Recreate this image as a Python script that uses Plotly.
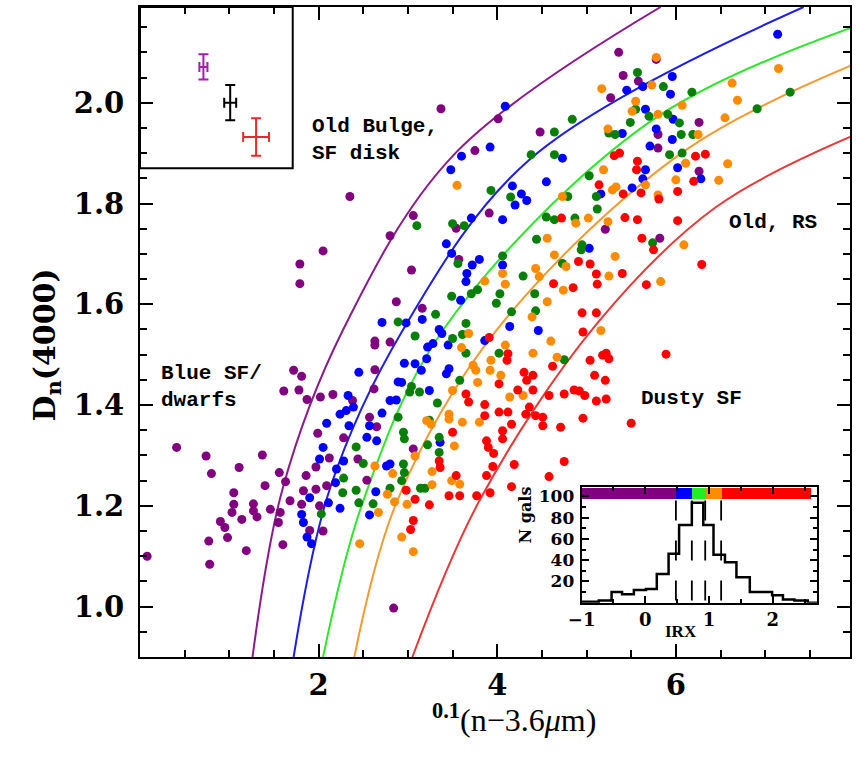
import plotly.graph_objects as go

# ---------------- data ----------------
purple_x = [3.37,3.75,2.35,3.06,3.91,3.54,2.80,2.05,1.79,1.79,3.57,3.04,2.87,3.16,
            5.36,5.78,5.41,5.58,5.27,6.26,4.01,4.48,5.80,5.80,6.26,5.21,5.82,
            2.63,2.63,2.80,1.72,1.81,2.63,1.61,1.78,1.87,2.02,2.16,2.62,2.38,2.57,2.65,1.99,2.28,
            3.06,
            1.37,1.11,1.56,1.63,1.86,2.12,1.97,2.44,1.40,1.05,1.05,1.03,1.27,1.27,1.31,1.14,1.46,1.57,
            1.68,1.81,1.83,1.97,2.09,2.54,2.01,1.55,1.90,2.05,1.60,1.19,
            0.41,0.74,0.80,0.90,0.95,0.98,0.77,0.78,0.08,2.84]
purple_y = [1.988,1.905,1.814,1.776,1.781,1.751,1.736,1.706,1.680,1.641,1.689,1.668,1.605,1.592,
            2.100,2.086,2.054,2.043,2.010,1.961,1.968,1.942,1.937,1.910,1.864,1.749,1.731,
            1.527,1.519,1.525,1.469,1.457,1.470,1.428,1.430,1.411,1.416,1.421,1.432,1.409,1.376,1.357,1.344,1.335,
            1.313,
            1.301,1.276,1.266,1.248,1.260,1.295,1.277,1.293,1.240,1.226,1.203,1.187,1.204,1.190,1.178,1.173,1.193,1.187,
            1.210,1.203,1.230,1.233,1.240,1.251,1.200,1.167,1.151,1.150,1.123,1.111,
            1.316,1.299,1.264,1.169,1.157,1.137,1.130,1.084,1.100,0.997]

blue_x = [3.60,3.48,3.71,3.43,3.49,3.72,3.80,3.66,3.65,3.59,
          7.14,5.96,5.45,5.63,5.94,5.66,5.97,5.78,5.40,5.96,4.09,4.73,5.71,5.66,6.02,6.28,5.63,4.55,
          4.17,4.27,4.20,4.33,5.51,5.16,4.06,5.03,4.06,3.92,
          2.71,2.45,2.89,2.33,2.39,2.31,2.24,2.80,2.87,2.71,2.09,2.34,2.57,2.54,2.65,2.05,
          2.98,3.16,3.35,3.38,3.28,3.22,3.45,3.86,4.14,4.46,2.96,3.08,3.15,3.21,3.46,3.43,2.93,3.24,3.36,
          2.01,2.20,2.28,2.76,2.80,1.90,2.19,2.64,2.57,2.11,2.24,1.81,1.83,1.87,1.92]
blue_y = [1.894,1.867,1.771,1.720,1.701,1.678,1.689,1.661,1.645,1.608,
          2.136,2.052,2.025,2.032,2.017,1.987,1.967,1.948,1.939,1.927,1.993,1.890,1.914,1.867,1.871,1.849,1.849,1.843,
          1.835,1.819,1.797,1.806,1.831,1.819,1.768,1.711,1.678,1.912,
          1.564,1.465,1.446,1.419,1.396,1.389,1.382,1.409,1.410,1.384,1.364,1.359,1.359,1.336,1.329,1.316,
          1.563,1.570,1.550,1.542,1.522,1.515,1.519,1.528,1.556,1.548,1.483,1.482,1.469,1.492,1.472,1.462,1.445,1.429,1.326,
          1.293,1.273,1.289,1.279,1.283,1.216,1.246,1.228,1.182,1.206,1.195,1.183,1.167,1.138,1.125]

green_x = [3.10,3.50,3.63,3.56,3.78,3.71,3.49,3.31,
           5.57,5.86,6.18,7.28,6.91,5.55,5.70,5.91,5.49,6.04,4.84,4.64,5.25,5.32,6.06,6.19,4.38,4.64,5.93,6.07,
           5.03,3.93,4.15,5.11,4.79,5.12,4.55,4.64,4.87,4.44,5.74,4.95,4.94,4.06,4.73,4.29,4.42,4.03,3.99,4.16,4.43,
           2.89,2.89,2.42,
           3.08,3.65,3.61,3.50,3.65,4.02,4.75,3.58,3.04,3.02,3.13,3.33,3.24,2.95,2.96,3.35,3.22,
           2.50,2.28,2.27,2.42,2.80,2.45,2.61,2.03,
           3.35,2.95,2.96,2.93,3.14,3.19]
green_y = [1.756,1.760,1.756,1.681,1.629,1.621,1.616,1.580,
           2.060,2.032,2.021,2.021,1.988,1.987,1.973,1.977,1.961,1.960,1.967,1.942,1.940,1.937,1.937,1.937,1.897,1.897,1.897,1.900,
           1.855,1.826,1.813,1.814,1.814,1.789,1.773,1.768,1.771,1.729,1.722,1.718,1.708,1.696,1.681,1.656,1.621,1.621,1.602,1.585,1.587,
           1.565,1.376,1.317,
           1.537,1.562,1.540,1.532,1.503,1.503,1.490,1.449,1.437,1.426,1.426,1.404,1.370,1.346,1.333,1.336,1.321,
           1.284,1.255,1.226,1.231,1.235,1.206,1.204,1.184,
           1.306,1.283,1.266,1.250,1.235,1.235]

orange_x = [3.55,3.86,
            5.78,5.17,5.73,6.63,7.15,6.69,6.55,5.55,5.51,5.80,6.07,5.24,6.25,6.11,6.58,5.19,6.00,6.48,5.29,5.33,
            5.66,5.80,4.73,5.02,5.24,4.88,4.56,6.09,4.64,5.32,4.77,4.43,4.47,5.25,4.74,5.83,4.06,4.09,4.56,
            3.68,3.60,4.09,4.40,4.39,4.60,4.67,3.73,3.76,3.93,3.92,4.04,3.78,3.50,4.14,4.29,3.46,3.46,3.21,3.26,3.61,3.80,3.52,
            2.63,2.83,2.77,2.85,2.67,2.46,
            3.08,3.27,3.49,3.58,3.27,2.99,2.93,3.06,5.16]
orange_y = [1.836,1.646,
            2.090,2.028,2.035,2.039,2.068,2.005,1.970,2.003,1.983,1.977,1.995,1.948,1.937,1.880,1.879,1.867,1.847,1.846,1.827,1.833,
            1.837,1.817,1.814,1.771,1.764,1.761,1.731,1.718,1.698,1.695,1.675,1.671,1.655,1.656,1.628,1.645,1.661,1.640,1.605,
            1.542,1.514,1.519,1.503,1.575,1.527,1.495,1.479,1.469,1.489,1.469,1.459,1.445,1.429,1.416,1.419,1.382,1.372,1.369,1.362,1.366,1.366,1.319,
            1.279,1.264,1.223,1.208,1.187,1.125,
            1.299,1.268,1.250,1.243,1.242,1.203,1.138,1.109,1.548]

red_x = [5.31,5.37,5.57,6.22,6.33,5.56,6.20,5.14,5.41,5.61,5.81,6.02,4.72,5.43,5.57,6.02,5.62,5.75,6.29,4.91,
         5.04,5.11,5.40,5.12,4.63,4.85,5.67,4.95,5.11,
         3.91,4.12,4.11,4.62,4.40,4.33,4.30,4.02,3.65,3.68,4.23,4.40,4.58,4.75,3.86,3.86,4.02,4.12,4.36,4.32,
         4.43,4.51,4.51,3.50,4.16,4.06,4.71,3.88,3.90,4.06,
         3.35,3.36,3.54,2.98,3.08,3.46,3.58,3.24,3.77,3.92,3.88,3.95,3.96,4.19,4.16,4.58,4.75,3.06,3.03,
         4.96,5.89,5.04,5.18,5.22,5.25,5.09,5.21,4.86,4.92,4.98,5.11,5.22,5.50,4.96]
red_y = [1.895,1.900,1.884,1.894,1.898,1.867,1.844,1.837,1.819,1.821,1.809,1.824,1.771,1.772,1.768,1.766,1.731,1.708,1.679,1.685,
         1.680,1.660,1.661,1.640,1.641,1.633,1.639,1.583,1.583,
         1.534,1.502,1.489,1.477,1.459,1.449,1.465,1.442,1.422,1.406,1.430,1.430,1.419,1.422,1.401,1.379,1.386,1.386,1.396,1.382,
         1.379,1.376,1.359,1.346,1.362,1.349,1.356,1.329,1.316,1.333,
         1.289,1.276,1.260,1.231,1.213,1.220,1.220,1.202,1.220,1.226,1.260,1.278,1.304,1.282,1.238,1.258,1.288,1.171,1.153,
         1.545,1.501,1.489,1.499,1.503,1.492,1.459,1.449,1.430,1.428,1.419,1.408,1.412,1.364,1.374]

# model curves
curve_purple_x = [1.26, 1.60, 2.27, 3.50, 5.83]
curve_purple_y = [0.90, 1.236, 1.548, 1.894, 2.19]
curve_blue_x = [1.72, 2.13, 2.94, 4.36, 7.43]
curve_blue_y = [0.90, 1.236, 1.548, 1.887, 2.19]
curve_green_x = [2.05, 2.50, 3.39, 5.70, 7.95]
curve_green_y = [0.90, 1.210, 1.548, 1.961, 2.148]
curve_orange_x = [2.40, 2.88, 3.99, 6.07, 7.95]
curve_orange_y = [0.90, 1.210, 1.548, 1.901, 2.073]
curve_red_x = [3.05, 3.80, 5.10, 6.45, 7.95]
curve_red_y = [0.90, 1.210, 1.558, 1.793, 1.932]

# typical error bars (purple, black, red)
err_x = [0.71, 1.01, 1.30]
err_y = [2.071, 2.000, 1.932]
err_dx = [0.045, 0.067, 0.145]
err_dy = [0.025, 0.035, 0.037]

# inset: IRX histogram
hist_edges = [-0.73, -0.53, -0.365, -0.18, 0.01, 0.18, 0.365, 0.53, 0.73, 0.91, 1.07, 1.25, 1.43, 1.64,
              1.82, 1.99, 2.16, 2.34, 2.55]
hist_counts = [2, 10, 8, 12, 13, 27, 46, 73, 94, 73, 45, 38, 24, 10, 10, 7, 3, 2]
irx_cuts = [0.48, 0.73, 0.94, 1.19]
irx_bar_start = [-1.0, 0.48, 0.73, 0.94, 1.19]
irx_bar_end = [0.48, 0.73, 0.94, 1.19, 2.59]

# ---------------- styles ----------------
dot_col = {"purple": "#80007F", "blue": "#0000FF", "green": "#087F08", "orange": "#FF8C00", "red": "#FF0000"}
line_col = {"purple": "#8B1A8B", "blue": "#1E1EE6", "green": "#2EE62E", "orange": "#F39A34", "red": "#E8393A"}
TICKFONT = "DejaVu Serif"
LABFONT = "Liberation Mono"

fig = go.Figure()

curves = [("purple", curve_purple_x, curve_purple_y), ("blue", curve_blue_x, curve_blue_y),
          ("green", curve_green_x, curve_green_y), ("orange", curve_orange_x, curve_orange_y),
          ("red", curve_red_x, curve_red_y)]
for name, cx, cy in curves:
    fig.add_trace(go.Scatter(x=cx, y=cy, mode="lines",
                             line=dict(color=line_col[name], width=2, shape="spline", smoothing=1.0),
                             hoverinfo="skip"))

points = [("purple", purple_x, purple_y), ("blue", blue_x, blue_y), ("green", green_x, green_y),
          ("orange", orange_x, orange_y), ("red", red_x, red_y)]
for name, px, py in points:
    fig.add_trace(go.Scatter(x=px, y=py, mode="markers",
                             marker=dict(size=9, color=dot_col[name], line=dict(width=0))))

err_cols = ["#A020A8", "#000000", "#E8282A"]
for i in range(3):
    fig.add_trace(go.Scatter(x=[err_x[i]], y=[err_y[i]], mode="markers",
                             marker=dict(size=1, color=err_cols[i], opacity=0),
                             error_x=dict(type="data", array=[err_dx[i]], color=err_cols[i], thickness=2, width=5),
                             error_y=dict(type="data", array=[err_dy[i]], color=err_cols[i], thickness=2, width=5)))

# inset traces
bar_cols = [dot_col["purple"], "#0000FF", "#22EE22", "#FF8C00", "#FF0000"]
fig.add_trace(go.Bar(orientation="h", y=[103]*5,
                     x=[e - s for s, e in zip(irx_bar_start, irx_bar_end)], base=irx_bar_start,
                     width=10, marker=dict(color=bar_cols, line=dict(width=0)),
                     xaxis="x2", yaxis="y2", hoverinfo="skip"))
for c in irx_cuts:
    fig.add_trace(go.Scatter(x=[c, c], y=[2, 96], mode="lines",
                             line=dict(color="black", width=1.8, dash="20px,20px"),
                             xaxis="x2", yaxis="y2", hoverinfo="skip"))
hx = [-1.0] + hist_edges + [2.7]
hy = [1] + hist_counts + [0, 0]
fig.add_trace(go.Scatter(x=hx, y=hy, mode="lines", line=dict(color="black", width=2.5, shape="hv"),
                         xaxis="x2", yaxis="y2", hoverinfo="skip"))

axis_common = dict(showline=True, linecolor="black", linewidth=2, mirror="allticks",
                   ticks="inside", tickcolor="black", showgrid=False, zeroline=False)

fig.update_layout(
    width=856, height=757,
    margin=dict(l=140, r=4, t=7, b=100),
    paper_bgcolor="white", plot_bgcolor="white",
    showlegend=False,
    xaxis=dict(range=[0, 7.95], tickvals=[2, 4, 6], ticklen=13, tickwidth=2,
               minor=dict(dtick=0.5, tick0=0, ticklen=7, tickwidth=2, ticks="inside", tickcolor="black"),
               tickfont=dict(family=TICKFONT, size=29, color="black", weight="bold"),
               ticklabelstandoff=1, **axis_common),
    yaxis=dict(range=[0.9, 2.19], tickvals=[1.0, 1.2, 1.4, 1.6, 1.8, 2.0],
               ticktext=["1.0", "1.2", "1.4", "1.6", "1.8", "2.0"], ticklen=13, tickwidth=2,
               minor=dict(dtick=0.05, tick0=0, ticklen=7, tickwidth=2, ticks="inside", tickcolor="black"),
               tickfont=dict(family=TICKFONT, size=29, color="black", weight="bold"),
               ticklabelstandoff=8, **axis_common),
    xaxis2=dict(domain=[0.622, 0.954], anchor="y2", range=[-1, 2.7], tickvals=[-1, 0, 1, 2],
                ticktext=["\u22121", "0", "1", "2"], ticklen=7, tickwidth=1.5,
                minor=dict(dtick=0.5, tick0=0, ticklen=4, tickwidth=1.5, ticks="inside", tickcolor="black"),
                tickfont=dict(family=TICKFONT, size=18, color="black", weight="bold"),
                **axis_common),
    yaxis2=dict(domain=[0.0835, 0.262], anchor="x2", range=[0, 109], tickvals=[20, 40, 60, 80, 100],
                ticklen=7, tickwidth=1.5,
                minor=dict(dtick=10, tick0=0, ticklen=4, tickwidth=1.5, ticks="inside", tickcolor="black"),
                tickfont=dict(family=TICKFONT, size=17, color="black", weight="bold"),
                ticklabelstandoff=2, **axis_common),
    bargap=0,
)

# error-bar box
fig.add_shape(type="rect", xref="x", yref="y", x0=0, x1=1.71, y0=1.87, y1=2.19,
              line=dict(color="black", width=2), fillcolor="rgba(0,0,0,0)")

lab = dict(family=LABFONT, size=21, color="black", weight="bold")
fig.add_annotation(x=1.90, y=1.927, xref="x", yref="y", text="Old Bulge,<br>SF disk", showarrow=False,
                   xanchor="left", yanchor="middle", align="left", font=lab)
fig.add_annotation(x=6.57, y=1.762, xref="x", yref="y", text="Old, RS", showarrow=False,
                   xanchor="left", yanchor="middle", font=lab)
fig.add_annotation(x=0.21, y=1.435, xref="x", yref="y", text="Blue SF/<br>dwarfs", showarrow=False,
                   xanchor="left", yanchor="middle", align="left", font=lab)
fig.add_annotation(x=5.59, y=1.413, xref="x", yref="y", text="Dusty SF", showarrow=False,
                   xanchor="left", yanchor="middle", font=lab)

# axis titles
fig.add_annotation(x=-0.133, y=0.48, xref="paper", yref="paper", text="D<sub>n</sub>(4000)",
                   textangle=-90, showarrow=False, xanchor="center", yanchor="middle",
                   font=dict(family=TICKFONT, size=30, color="black", weight="bold"))
fig.add_annotation(x=0.527, y=-0.094, xref="paper", yref="paper",
                   text="<sup><b>0.1</b></sup>(n\u22123.6<i>\u03bc</i>m)",
                   showarrow=False, xanchor="center", yanchor="middle",
                   font=dict(family="Liberation Serif", size=32, color="black"))
# inset titles
fig.add_annotation(x=(527 - 140) / 712, y=(657 - 545) / 650, xref="paper", yref="paper", text="N gals",
                   textangle=-90, showarrow=False, font=dict(family=TICKFONT, size=16, color="black", weight="bold"))
fig.add_annotation(x=(701 - 140) / 712, y=(657 - 643) / 650, xref="paper", yref="paper", text="IRX",
                   showarrow=False, font=dict(family="Liberation Serif", size=17, color="black", weight="bold"))

fig.write_html("out.html")
